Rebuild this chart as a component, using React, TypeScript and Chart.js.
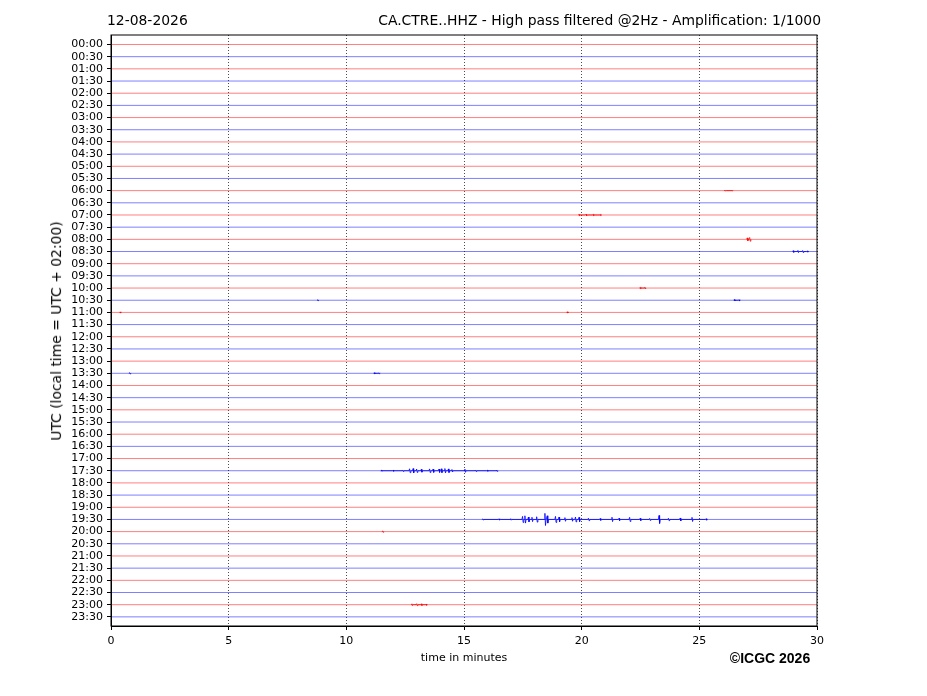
import React, { useEffect, useRef } from 'react';
import { Chart, registerables } from 'chart.js';

Chart.register(...registerables);

const dateLabel = '12-08-2026';
const titleText = 'CA.CTRE..HHZ - High pass filtered @2Hz - Amplification: 1/1000';
const yAxisTitle = 'UTC (local time = UTC + 02:00)';
const xAxisTitle = 'time in minutes';
const copyrightText = '©ICGC 2026';

const timeLabels = [
  '00:00', '00:30', '01:00', '01:30', '02:00', '02:30', '03:00', '03:30',
  '04:00', '04:30', '05:00', '05:30', '06:00', '06:30', '07:00', '07:30',
  '08:00', '08:30', '09:00', '09:30', '10:00', '10:30', '11:00', '11:30',
  '12:00', '12:30', '13:00', '13:30', '14:00', '14:30', '15:00', '15:30',
  '16:00', '16:30', '17:00', '17:30', '18:00', '18:30', '19:00', '19:30',
  '20:00', '20:30', '21:00', '21:30', '22:00', '22:30', '23:00', '23:30',
];

const xRange = [0, 30];
const xTickStep = 5;

const traceColors = ['rgba(255,0,0,0.5)', 'rgba(0,0,255,0.5)'];
const eventColors = ['rgba(255,0,0,0.8)', 'rgba(0,0,255,0.8)'];
const clusterGap = 1.2; // minutes: events closer than this share one noisy segment

// events: [minute, half-amplitude in row units]
const events0600 = [[26.1, 0.03], [26.4, 0.03]];
const events0700 = [[19.9, 0.05], [20.2, 0.06], [20.5, 0.05], [20.8, 0.04]];
const events0800 = [[27.05, 0.12], [27.15, 0.15]];
const events0830 = [[29.0, 0.07], [29.2, 0.09], [29.4, 0.08], [29.6, 0.05]];
const events1000 = [[22.5, 0.05], [22.7, 0.06]];
const events1030 = [[8.8, 0.04], [26.5, 0.06], [26.7, 0.04]];
const events1100 = [[0.4, 0.04], [19.4, 0.05]];
const events1330 = [[0.8, 0.05], [11.2, 0.05], [11.4, 0.04]];
const events1730 = [
  [11.5, 0.04], [12.0, 0.05], [12.4, 0.06], [12.7, 0.16], [12.85, 0.18], [13.0, 0.14],
  [13.2, 0.12], [13.55, 0.15], [13.7, 0.14], [13.95, 0.14], [14.05, 0.16], [14.2, 0.18],
  [14.35, 0.15], [14.5, 0.1], [15.05, 0.13], [15.5, 0.06], [16.0, 0.05], [16.4, 0.05],
];
const events1930 = [
  [15.8, 0.04], [16.5, 0.05], [17.0, 0.06], [17.5, 0.25], [17.6, 0.3], [17.75, 0.2],
  [17.9, 0.18], [18.1, 0.22], [18.45, 0.5], [18.55, 0.3], [18.9, 0.25], [19.05, 0.2],
  [19.3, 0.15], [19.6, 0.15], [19.75, 0.2], [19.9, 0.18], [20.3, 0.1], [20.8, 0.08],
  [21.3, 0.18], [21.6, 0.1], [22.05, 0.17], [22.5, 0.1], [22.9, 0.08], [23.3, 0.33],
  [23.7, 0.1], [24.2, 0.12], [24.7, 0.17], [25.3, 0.06],
];
const events2000 = [[11.55, 0.05]];
const events2300 = [[12.8, 0.07], [13.0, 0.08], [13.2, 0.07], [13.4, 0.05]];

const eventRows: [string, number[][]][] = [
  ['06:00', events0600], ['07:00', events0700], ['08:00', events0800], ['08:30', events0830],
  ['10:00', events1000], ['10:30', events1030], ['11:00', events1100], ['13:30', events1330],
  ['17:30', events1730], ['19:30', events1930], ['20:00', events2000], ['23:00', events2300],
];

function buildDatasets() {
  const datasets: any[] = [];
  timeLabels.forEach((_, i) => {
    datasets.push({
      data: xRange.map((x) => ({ x, y: i })),
      borderColor: traceColors[i % 2],
      borderWidth: 1,
      pointRadius: 0,
      showLine: true,
      fill: false,
    });
  });
  eventRows.forEach(([label, evs]) => {
    const row = timeLabels.indexOf(label);
    const pts: any[] = [];
    evs.forEach(([t, a], k) => {
      if (k > 0 && t - evs[k - 1][0] > clusterGap) {
        pts.push({ x: (t + evs[k - 1][0]) / 2, y: null });
      }
      pts.push({ x: t - 0.04, y: row });
      pts.push({ x: t - 0.012, y: row - a });
      pts.push({ x: t + 0.012, y: row + a });
      pts.push({ x: t + 0.04, y: row });
    });
    datasets.push({
      data: pts,
      borderColor: eventColors[row % 2],
      borderWidth: 1,
      pointRadius: 0,
      showLine: true,
      spanGaps: false,
      fill: false,
    });
  });
  return datasets;
}

const frameBorder = {
  id: 'frameBorder',
  afterDraw(chart: any) {
    const { ctx, chartArea } = chart;
    ctx.save();
    ctx.strokeStyle = '#000';
    ctx.lineWidth = 1;
    ctx.strokeRect(chartArea.left, chartArea.top, chartArea.right - chartArea.left, chartArea.bottom - chartArea.top);
    ctx.restore();
  },
};

export default function App() {
  const ref = useRef<HTMLCanvasElement | null>(null);
  useEffect(() => {
    if (!ref.current) return;
    Chart.defaults.font.family = "'DejaVu Sans', sans-serif";
    const chart = new Chart(ref.current, {
      type: 'scatter',
      data: { datasets: buildDatasets() },
      options: {
        animation: false,
        responsive: false,
        layout: { padding: { left: 0, right: 110, top: 35, bottom: 0 } },
        plugins: { legend: { display: false }, tooltip: { enabled: false } },
        scales: {
          x: {
            type: 'linear',
            min: xRange[0],
            max: xRange[1],
            afterFit: (s: any) => { s.height = 70; },
            ticks: { stepSize: xTickStep, color: '#000', font: { size: 11 }, padding: 5, maxRotation: 0 },
            grid: {
              color: 'rgba(0,0,0,0.7)',
              lineWidth: 1,
              tickLength: 4,
              tickColor: '#000',
              tickWidth: 1,
            },
            border: { display: true, color: '#000', width: 1, dash: [1, 2] },
          },
          y: {
            type: 'linear',
            reverse: true,
            min: -0.78,
            max: timeLabels.length - 0.25,
            afterFit: (s: any) => { s.width = 111; },
            afterBuildTicks: (s: any) => { s.ticks = timeLabels.map((_, i) => ({ value: i })); },
            ticks: {
              autoSkip: false,
              color: '#000',
              font: { size: 11 },
              padding: 4,
              callback: (v: any) => timeLabels[v] ?? '',
            },
            grid: { drawOnChartArea: false, drawTicks: true, tickLength: 4, tickColor: '#000', tickWidth: 1 },
            border: { display: true, color: '#000', width: 1 },
          },
        },
      },
      plugins: [frameBorder],
    } as any);
    return () => chart.destroy();
  }, []);

  const base: React.CSSProperties = {
    position: 'absolute',
    fontFamily: "'DejaVu Sans', sans-serif",
    color: '#000',
    whiteSpace: 'nowrap',
    lineHeight: 1,
  };

  return (
    <div style={{ position: 'fixed', left: 0, top: 0, width: 927, height: 696, background: '#fff' }}>
      <canvas ref={ref} width={927} height={696} style={{ position: 'absolute', left: 0, top: 0 }} />
      <div style={{ ...base, left: 107, top: 14, fontSize: 13.9 }}>{dateLabel}</div>
      <div style={{ ...base, right: 106, top: 14, fontSize: 13.9, textAlign: 'right' }}>{titleText}</div>
      <div
        style={{
          ...base,
          left: 57,
          top: 331,
          fontSize: 13.9,
          transform: 'translate(-50%, -50%) rotate(-90deg)',
        }}
      >
        {yAxisTitle}
      </div>
      <div style={{ ...base, left: 464, top: 657, fontSize: 11, transform: 'translate(-50%, -50%)' }}>{xAxisTitle}</div>
      <div
        style={{
          ...base,
          left: 770,
          top: 658,
          fontSize: 14,
          fontWeight: 'bold',
          fontFamily: "'Liberation Sans', Arial, sans-serif",
          transform: 'translate(-50%, -50%)',
        }}
      >
        {copyrightText}
      </div>
    </div>
  );
}
